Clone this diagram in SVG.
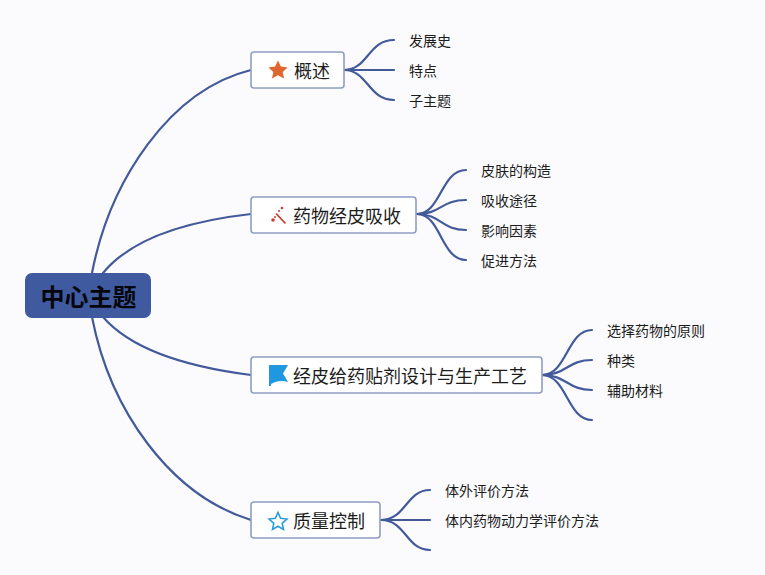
<svg xmlns="http://www.w3.org/2000/svg" width="765" height="575" viewBox="0 0 765 575">
<style>
text{font-family:"Noto Sans CJK SC","Noto Sans",sans-serif;fill:#1c1c1c}
.c{fill:none;stroke:#435a9a;stroke-width:2.200;stroke-linecap:round}
.n{fill:#fff;stroke:#8f9dc4;stroke-width:1.600}
.t{font-size:18px}
.l{font-size:14px}
</style>
<rect width="765" height="575" fill="#fbfbfd"/>
<g id="connectors">
<path class="c" d="M92 273C110 180 170 90 251 70"/>
<path class="c" d="M103 273C130 240 180 222 251 214"/>
<path class="c" d="M103 317C130 348 180 366 251 375"/>
<path class="c" d="M92 317C110 410 170 495 251 520"/>
<path class="c" d="M344 70C368 70 368 40 394 40"/>
<path class="c" d="M344 70H394"/>
<path class="c" d="M344 70C368 70 368 100 394 100"/>
<path class="c" d="M417 214C441 214 441 170 466 170"/>
<path class="c" d="M417 214C441 214 441 200 466 200"/>
<path class="c" d="M417 214C441 214 441 230 466 230"/>
<path class="c" d="M417 214C441 214 441 260 466 260"/>
<path class="c" d="M542 375C567 375 567 330 592 330"/>
<path class="c" d="M542 375C567 375 567 360 592 360"/>
<path class="c" d="M542 375C567 375 567 390 592 390"/>
<path class="c" d="M542 375C567 375 567 420 592 420"/>
<path class="c" d="M381 520C406 520 406 490 430 490"/>
<path class="c" d="M381 520H430"/>
<path class="c" d="M381 520C406 520 406 550 430 550"/>
</g>
<g id="root"><rect x="25" y="273" width="126" height="45" rx="7" fill="#3f5a9f"/><text x="88.500" y="305.500" text-anchor="middle" font-size="24" font-weight="700" style="fill:#05060c">中心主题</text></g>
<g id="n1"><rect class="n" x="251" y="52" width="93" height="36" rx="3"/><path d="M278 60.500l2.900 6.100 6.700.8-4.900 4.600 1.300 6.600-6-3.300-6 3.300 1.300-6.600-4.900-4.600 6.700-.8z" fill="#e0662f"/><text class="t" x="294" y="77.500" font-size="17.500">概述</text></g>
<g id="n2"><rect class="n" x="251" y="197" width="165" height="36" rx="3"/><g fill="#d13a30"><path d="M276 213.500l9.500 10" stroke="#d13a30" stroke-width="1.800"/><circle cx="282" cy="208" r="1.300"/><circle cx="273" cy="220" r="1.800"/><circle cx="275" cy="217" r="1"/><circle cx="279" cy="211" r="1"/></g><text class="t" x="293" y="222.500">药物经皮吸收</text></g>
<g id="n3"><rect class="n" x="251" y="357" width="291" height="36" rx="3"/><path d="M269 365H288L283 373.500 288 382C282 380 276 381 271 384V386H269Z" fill="#1f98e0"/><text class="t" x="293" y="382.500">经皮给药贴剂设计与生产工艺</text></g>
<g id="n4"><rect class="n" x="251" y="502" width="129" height="36" rx="3"/><path d="M278 512.500l2.600 5.800 6.300.7-4.700 4.300 1.300 6.200-5.500-3.200-5.500 3.200 1.300-6.200-4.700-4.300 6.300-.7z" fill="#fff" stroke="#2b9cd8" stroke-width="1.600"/><text class="t" x="293" y="527.500">质量控制</text></g>
<g id="a1"><text class="l" x="409" y="46">发展史</text></g>
<g id="a2"><text class="l" x="409" y="76">特点</text></g>
<g id="a3"><text class="l" x="409" y="106">子主题</text></g>
<g id="b1"><text class="l" x="481" y="176">皮肤的构造</text></g>
<g id="b2"><text class="l" x="481" y="206">吸收途径</text></g>
<g id="b3"><text class="l" x="481" y="236">影响因素</text></g>
<g id="b4"><text class="l" x="481" y="266">促进方法</text></g>
<g id="c1"><text class="l" x="607" y="336">选择药物的原则</text></g>
<g id="c2"><text class="l" x="607" y="366">种类</text></g>
<g id="c3"><text class="l" x="607" y="396">辅助材料</text></g>
<g id="d1"><text class="l" x="445" y="496">体外评价方法</text></g>
<g id="d2"><text class="l" x="445" y="526">体内药物动力学评价方法</text></g>
</svg>
